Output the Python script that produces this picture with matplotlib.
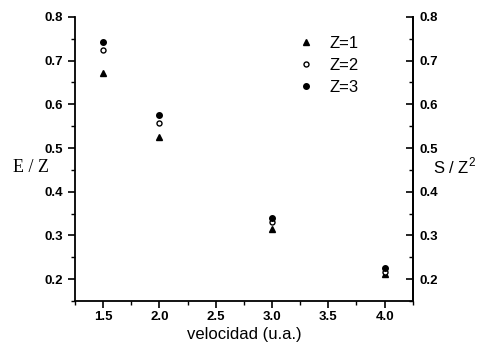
import matplotlib
matplotlib.use("Agg")
import matplotlib.pyplot as plt
from matplotlib.ticker import MultipleLocator

velocidad = [1.5, 2.0, 3.0, 4.0]
z1 = [0.672, 0.526, 0.315, 0.211]
z2 = [0.724, 0.557, 0.330, 0.217]
z3 = [0.743, 0.575, 0.340, 0.226]
labels = ["Z=1", "Z=2", "Z=3"]

plt.rcParams['font.family'] = ['Liberation Sans', 'DejaVu Sans']

fig = plt.figure(figsize=(4.8, 3.45), dpi=100)
ax = fig.add_axes([0.156, 0.1275, 0.704, 0.8235])

ax.plot(velocidad, z1, linestyle='none', marker='^', ms=5, color='black', label=labels[0])
ax.plot(velocidad, z2, linestyle='none', marker='o', ms=3.6, mfc='white', mec='black', mew=1.0, label=labels[1])
ax.plot(velocidad, z3, linestyle='none', marker='o', ms=4, color='black', label=labels[2])

ax.set_xlim(1.25, 4.25)
ax.set_ylim(0.15, 0.8)
ax.xaxis.set_major_locator(MultipleLocator(0.5))
ax.xaxis.set_minor_locator(MultipleLocator(0.25))
ax.yaxis.set_major_locator(MultipleLocator(0.1))
ax.yaxis.set_minor_locator(MultipleLocator(0.05))
ax.spines['top'].set_visible(False)
for s in ['left', 'bottom', 'right']:
    ax.spines[s].set_linewidth(1.3)
ax.tick_params(which='major', direction='out', length=5, width=1.2, labelsize=9.5)
ax.tick_params(axis='x', which='major', pad=2)
ax.tick_params(which='minor', direction='out', length=3, width=1.0)
for lab in ax.get_xticklabels() + ax.get_yticklabels():
    lab.set_fontweight('bold')

ax2 = ax.twinx()
ax2.set_ylim(ax.get_ylim())
ax2.yaxis.set_major_locator(MultipleLocator(0.1))
ax2.yaxis.set_minor_locator(MultipleLocator(0.05))
ax2.spines['top'].set_visible(False)
ax2.spines['left'].set_visible(False)
ax2.spines['bottom'].set_visible(False)
ax2.spines['right'].set_linewidth(1.3)
ax2.tick_params(which='major', direction='in', length=5, width=1.2, labelsize=9.5, pad=5)
ax2.tick_params(which='minor', direction='in', length=3, width=1.0)
for lab in ax2.get_yticklabels():
    lab.set_fontweight('bold')

ax.set_xlabel("velocidad (u.a.)", fontsize=12, labelpad=3)
fig.text(0.028, 0.515, "E / Z", family=['Liberation Serif'], fontsize=13, ha='left', va='center')
fig.text(0.903, 0.518, "S / Z$^\\mathregular{2}$", fontsize=12, ha='left', va='center')

ax.legend(loc='upper left', bbox_to_anchor=(0.615, 0.985), frameon=False, fontsize=12,
          handletextpad=0.9, labelspacing=0.42, handlelength=1.0)

fig.savefig("out.png", dpi=100)
